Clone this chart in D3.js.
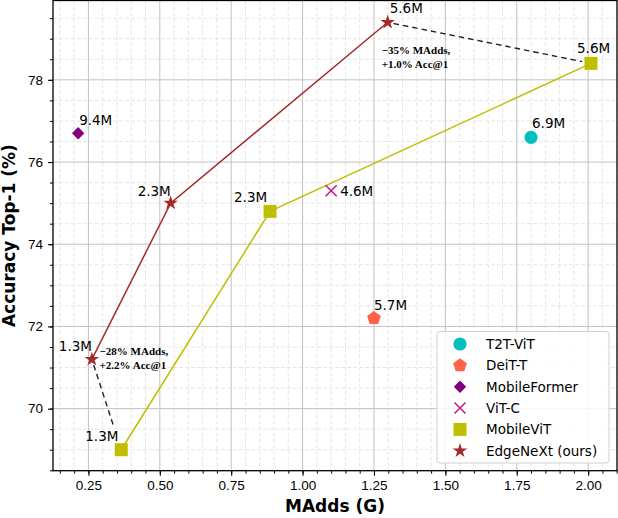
<!DOCTYPE html>
<html>
<head>
<meta charset="utf-8">
<script src="https://cdn.jsdelivr.net/npm/d3@7"></script>
<style>
	body { margin: 0; background: #fff; }
	svg { display: block; font-family: 'DejaVu Sans', sans-serif; }
	.tick-label { font-size: 13.5px; fill: #000; }
	.axis-title { font-size: 17px; font-weight: bold; }
	.point-label { font-size: 13.5px; fill: #000; }
	.note { font-family: 'Liberation Serif', serif; font-size: 11px; font-weight: bold; }
</style>
</head>
<body>
<div id="chart"></div>
<script>
// data
const models = ['T2T-ViT', 'DeiT-T', 'MobileFormer', 'ViT-C', 'MobileViT', 'EdgeNeXt (ours)'];
const madds = [[1.80], [1.25], [0.214], [1.10], [0.365, 0.886, 2.010], [0.262, 0.538, 1.298]];
const acc = [[76.6], [72.2], [76.7], [75.3], [69.0, 74.8, 78.4], [71.2, 75.0, 79.4]];
const params = [['6.9M'], ['5.7M'], ['9.4M'], ['4.6M'], ['1.3M', '2.3M', '5.6M'], ['1.3M', '2.3M', '5.6M']];
const xTicks = [0.25, 0.50, 0.75, 1.00, 1.25, 1.50, 1.75, 2.00];
const yTicks = [70, 72, 74, 76, 78];
const noteLines = [['\u221235% MAdds,', '+1.0% Acc@1'], ['\u221228% MAdds,', '+2.2% Acc@1']];
const noteX = [1.277, 0.289];
const noteY = [78.64, 71.31];
// which points the dashed comparison links join: [edgenext index, mobilevit index]
const links = [[2, 2], [0, 0]];

const colours = ['#00bfbf', '#ff6347', '#800080', '#c71585', '#bfbf00', '#a52a2a'];
const shapes = ['circle', 'pentagon', 'diamond', 'x', 'square', 'star'];
// label offsets in px (dx, dy) for each point
const labelOffsets = [[[1, -9]], [[0, -8]], [[1, -8]], [[9, 5]],
	[[-36, -9], [-36, -9], [-14, -10]], [[-33, -8], [-33, -7], [2, -9]]];

const W = 618, H = 518;
const plot = {left: 53, right: 617, top: 0.5, bottom: 470.7};

const x = d3.scaleLinear().domain([0.126, 2.101]).range([plot.left, plot.right]);
const y = d3.scaleLinear().domain([68.49, 79.93]).range([plot.bottom, plot.top]);

const svg = d3.select('#chart').append('svg')
	.attr('width', W)
	.attr('height', H);

function markerPath(shape) {
	if (shape === 'circle') return d3.symbol().type(d3.symbolCircle).size(135)();
	if (shape === 'square') return d3.symbol().type(d3.symbolSquare).size(169)();
	if (shape === 'star') return d3.symbol().type(d3.symbolStar).size(66)();
	if (shape === 'diamond') {
		const r = 6.2;
		return `M0,${-r}L${r},0L0,${r}L${-r},0Z`;
	}
	if (shape === 'pentagon') {
		const r = 7.2;
		const pts = d3.range(5).map(i => {
			const a = -Math.PI / 2 + i * 2 * Math.PI / 5;
			return [r * Math.cos(a), r * Math.sin(a)];
		});
		return 'M' + pts.map(p => p.join(',')).join('L') + 'Z';
	}
	if (shape === 'x') {
		const r = 5.5;
		return `M${-r},${-r}L${r},${r}M${-r},${r}L${r},${-r}`;
	}
}

function drawMarker(g, shape, colour, px, py) {
	const p = g.append('path')
		.attr('d', markerPath(shape))
		.attr('transform', `translate(${px},${py})`);
	if (shape === 'x') {
		p.attr('fill', 'none').attr('stroke', colour).attr('stroke-width', 1.5);
	} else {
		p.attr('fill', colour);
	}
}

function drawGrid() {
	const g = svg.append('g').attr('class', 'grid');
	const xMinor = d3.range(0.15, 2.101, 0.05).filter(v => !xTicks.some(t => Math.abs(t - v) < 1e-6));
	const yMinor = d3.range(68.5, 79.93, 0.5).filter(v => !yTicks.some(t => Math.abs(t - v) < 1e-6));

	g.selectAll('.xminor').data(xMinor).enter().append('line')
		.attr('x1', d => x(d)).attr('x2', d => x(d))
		.attr('y1', plot.top).attr('y2', plot.bottom)
		.attr('stroke', '#e6e6e6').attr('stroke-dasharray', '4,2').attr('stroke-width', 1);
	g.selectAll('.yminor').data(yMinor).enter().append('line')
		.attr('y1', d => y(d)).attr('y2', d => y(d))
		.attr('x1', plot.left).attr('x2', plot.right)
		.attr('stroke', '#e6e6e6').attr('stroke-dasharray', '4,2').attr('stroke-width', 1);

	g.selectAll('.xmajor').data(xTicks).enter().append('line')
		.attr('x1', d => x(d)).attr('x2', d => x(d))
		.attr('y1', plot.top).attr('y2', plot.bottom)
		.attr('stroke', '#c2c2c2').attr('stroke-width', 1);
	g.selectAll('.ymajor').data(yTicks).enter().append('line')
		.attr('y1', d => y(d)).attr('y2', d => y(d))
		.attr('x1', plot.left).attr('x2', plot.right)
		.attr('stroke', '#c2c2c2').attr('stroke-width', 1);
}

function drawAxes() {
	const xAxis = d3.axisBottom(x).tickValues(xTicks).tickFormat(d3.format('.2f')).tickSize(5).tickPadding(5);
	const yAxis = d3.axisLeft(y).tickValues(yTicks).tickFormat(d3.format('d')).tickSize(5).tickPadding(5);
	const xMinorAxis = d3.axisBottom(x).tickValues(d3.range(0.15, 2.101, 0.05)).tickFormat('').tickSize(3);
	const yMinorAxis = d3.axisLeft(y).tickValues(d3.range(68.5, 79.93, 0.5)).tickFormat('').tickSize(3);

	svg.append('g').attr('transform', `translate(0,${plot.bottom})`).call(xMinorAxis)
		.call(g => g.select('.domain').remove());
	svg.append('g').attr('transform', `translate(${plot.left},0)`).call(yMinorAxis)
		.call(g => g.select('.domain').remove());

	const gx = svg.append('g').attr('transform', `translate(0,${plot.bottom})`).call(xAxis);
	const gy = svg.append('g').attr('transform', `translate(${plot.left},0)`).call(yAxis);
	[gx, gy].forEach(g => {
		g.select('.domain').remove();
		g.selectAll('text').attr('class', 'tick-label').attr('font-family', null).attr('font-size', null);
		g.selectAll('line').attr('stroke', '#000').attr('stroke-width', 1.1);
	});
	svg.selectAll('.tick line').attr('stroke', '#000');

	// frame
	svg.append('rect')
		.attr('x', plot.left).attr('y', plot.top)
		.attr('width', plot.right - plot.left).attr('height', plot.bottom - plot.top)
		.attr('fill', 'none').attr('stroke', '#000').attr('stroke-width', 1.3);

	svg.append('text')
		.attr('class', 'axis-title')
		.attr('x', (plot.left + plot.right) / 2).attr('y', 512)
		.attr('text-anchor', 'middle')
		.text('MAdds (G)');
	svg.append('text')
		.attr('class', 'axis-title')
		.attr('transform', `translate(15,${(plot.top + plot.bottom) / 2}) rotate(-90)`)
		.attr('text-anchor', 'middle')
		.text('Accuracy Top-1 (%)');
}

function drawSeries() {
	const line = d3.line().x(d => x(d[0])).y(d => y(d[1]));
	const lines = svg.append('g').attr('class', 'lines');
	[4, 5].forEach(i => {
		lines.append('path')
			.datum(madds[i].map((v, j) => [v, acc[i][j]]))
			.attr('d', line)
			.attr('fill', 'none')
			.attr('stroke', colours[i])
			.attr('stroke-width', 1.5);
	});

	// dashed comparison links, trimmed at the ends like matplotlib shrinkA / shrinkB
	const shrink = [[6, 9], [6, 24]];
	links.forEach((l, k) => {
		const x1 = x(madds[5][l[0]]), y1 = y(acc[5][l[0]]);
		const x2 = x(madds[4][l[1]]), y2 = y(acc[4][l[1]]);
		const len = Math.hypot(x2 - x1, y2 - y1);
		const ux = (x2 - x1) / len, uy = (y2 - y1) / len;
		svg.append('line')
			.attr('x1', x1 + ux * shrink[k][0]).attr('y1', y1 + uy * shrink[k][0])
			.attr('x2', x2 - ux * shrink[k][1]).attr('y2', y2 - uy * shrink[k][1])
			.attr('stroke', '#222').attr('stroke-width', 1.4)
			.attr('stroke-dasharray', '5.5,4');
	});

	const marks = svg.append('g').attr('class', 'marks');
	models.forEach((m, i) => {
		madds[i].forEach((v, j) => {
			drawMarker(marks, shapes[i], colours[i], x(v), y(acc[i][j]));
			marks.append('text')
				.attr('class', 'point-label')
				.attr('x', x(v) + labelOffsets[i][j][0])
				.attr('y', y(acc[i][j]) + labelOffsets[i][j][1])
				.text(params[i][j]);
		});
	});

	noteLines.forEach((lines, k) => {
		const t = svg.append('text')
			.attr('class', 'note')
			.attr('x', x(noteX[k]))
			.attr('y', y(noteY[k]));
		lines.forEach((s, j) => {
			t.append('tspan')
				.attr('x', x(noteX[k]))
				.attr('dy', j === 0 ? 0 : 14)
				.text(s);
		});
	});
}

function drawLegend() {
	const g = svg.append('g').attr('class', 'legend');
	g.append('rect')
		.attr('x', 437).attr('y', 331.5)
		.attr('width', 172).attr('height', 131.5)
		.attr('rx', 3)
		.attr('fill', '#fff').attr('fill-opacity', 0.85)
		.attr('stroke', '#d0d0d0');
	models.forEach((m, i) => {
		const cy = 344 + i * 21.35;
		drawMarker(g, shapes[i], colours[i], 460, cy);
		g.append('text')
			.attr('class', 'point-label')
			.attr('x', 486).attr('y', cy + 5)
			.text(m);
	});
}

drawGrid();
drawAxes();
drawSeries();
drawLegend();
</script>
</body>
</html>
